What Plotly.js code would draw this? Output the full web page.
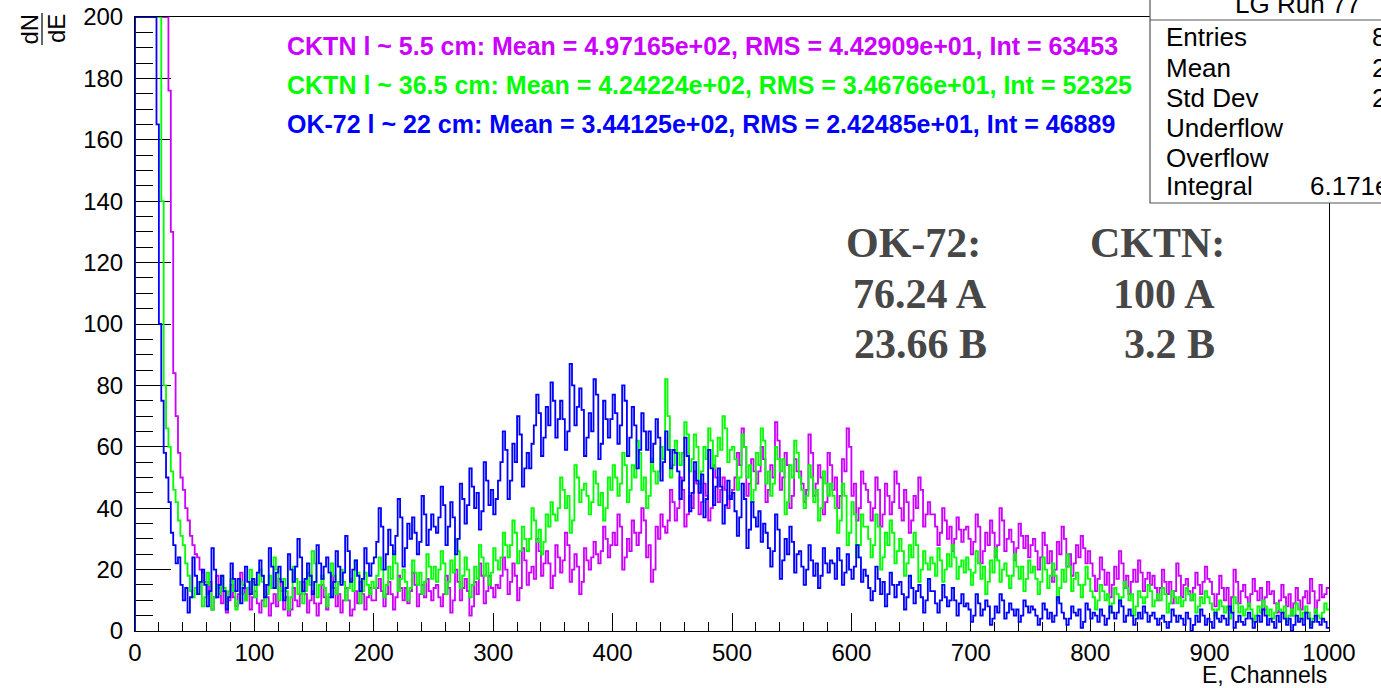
<!DOCTYPE html>
<html>
<head>
<meta charset="utf-8">
<script src="https://cdn.plot.ly/plotly-3.0.1.min.js"></script>
<style>
  html, body { margin: 0; padding: 0; background: #ffffff; }
  #chart { width: 1381px; height: 688px; }
</style>
</head>
<body>
<div id="chart"></div>
<script>
// ---------------- data ----------------
// Histograms over 0..1000 channels, re-binned to 2 channels per bin (500 bins).
// Bins that run off the top of the frame are recorded at the frame maximum (200).
const channelMax = 1000;

// CKTN l ~ 5.5 cm (violet)
const cktn55 = [
  200,200,200,200,200,200,200,200,200,200,200,200,200,200,
  176,130,84,70,58,50,46,40,36,31,28,25,24,20,19,16,
  12,16,7,11,18,14,9,13,6,10,15,11,8,12,19,15,10,14,7,11,
  13,9,6,10,15,11,5,9,12,8,17,13,7,11,5,7,14,10,8,12,16,12,6,10,13,9,5,9,15,11,7,11,18,14,8,12,6,10,14,10,5,7,13,9,16,12,7,11,14,10,
  10,14,17,13,8,12,16,12,7,11,18,14,10,14,9,13,19,15,8,12,15,11,17,13,10,14,
  15,11,8,12,18,14,6,10,20,16,10,14,17,13,5,8,16,12,22,18,9,13,18,14,11,15,
  14,18,24,20,12,16,22,18,10,14,27,23,15,19,21,17,30,26,
  18,22,26,22,14,18,28,24,19,23,32,28,16,20,25,21,12,16,27,23,20,24,29,25,
  22,26,34,30,24,28,32,28,38,34,20,24,30,26,36,32,
  28,32,40,36,24,28,16,20,34,30,38,34,
  32,36,46,42,36,40,50,46,34,38,44,40,52,48,38,42,48,44,36,40,54,50,42,46,50,46,40,44,
  46,50,58,54,66,60,44,48,56,52,48,52,60,56,42,46,54,50,68,62,46,50,58,54,40,44,56,52,
  52,48,42,46,64,58,44,48,54,50,38,42,58,54,46,50,40,44,56,52,66,60,44,48,36,40,52,48,
  46,42,36,40,50,46,34,38,48,44,38,42,52,48,
  40,36,46,42,32,36,44,40,50,46,34,38,42,38,
  38,34,28,32,40,36,30,34,26,30,37,33,29,33,
  34,30,25,29,38,34,22,26,32,28,36,32,24,28,40,36,26,30,33,29,23,27,35,31,27,31,24,28,
  30,26,20,24,32,28,22,26,16,20,29,25,34,30,21,25,18,22,28,24,31,27,22,26,
  22,18,13,17,24,20,15,19,11,15,21,17,26,22,14,18,12,16,20,16,23,19,13,17,19,15,
  18,14,10,14,20,16,12,16,9,13,22,18,11,15,17,13,10,14,19,15,12,16,21,17,
  16,12,8,12,18,14,10,14,7,11,20,16,9,13,15,11,8,12,17,13,10,14,7,11,16,12,
  13,9,6,10,15,11,8,12,5,9,14,10,7,11,13,9,17,13,6,10,15,11,12,14
];

// CKTN l ~ 36.5 cm (green)
const cktn365 = [
  200,200,200,200,200,200,200,200,200,200,
  200,140,80,66,60,52,46,42,36,31,28,22,18,13,11,14,
  12,16,8,11,19,15,7,11,15,12,18,14,9,13,17,13,7,10,16,12,10,14,20,16,
  11,15,20,16,8,12,18,14,24,20,10,14,17,13,7,11,21,17,12,16,9,13,19,15,26,22,11,15,18,14,8,12,22,18,12,16,20,16,10,14,17,13,23,19,9,13,19,15,12,16,
  14,18,24,20,11,15,21,17,26,22,13,17,20,16,10,14,23,19,15,19,12,16,25,21,17,21,
  16,20,26,22,12,16,23,19,30,26,14,18,24,20,11,15,21,17,28,24,18,22,15,19,27,23,
  20,24,32,28,24,28,36,32,22,26,34,30,26,30,40,36,29,33,25,29,38,34,42,38,
  36,40,50,46,40,44,32,36,54,50,42,46,
  48,44,38,42,52,48,41,45,36,40,50,46,54,50,
  44,48,58,54,42,46,54,50,62,58,46,50,40,44,56,52,48,52,60,56,
  82,70,
  50,54,62,58,54,58,68,64,52,56,64,60,48,52,60,56,66,62,53,57,63,59,70,66,55,59,
  60,56,46,50,64,60,50,54,42,46,58,54,66,62,48,52,44,48,60,56,52,56,38,42,54,50,62,58,
  50,46,40,44,54,50,42,46,36,40,52,48,44,48,
  44,40,32,36,48,44,28,32,42,38,24,28,38,34,
  34,30,24,28,38,34,20,24,32,28,36,32,22,26,
  30,26,18,22,28,24,32,28,16,20,26,22,20,24,
  22,18,27,23,16,20,25,21,28,24,17,21,23,19,
  24,20,15,19,26,22,17,21,12,16,23,19,27,23,16,20,22,18,14,18,25,21,17,21,13,17,23,19,
  21,17,12,16,24,20,14,18,22,18,10,14,20,16,25,21,13,17,19,15,11,15,21,17,
  13,11,7,10,15,13,10,12,6,9,14,12,9,11,16,14,10,12,5,8,13,11,9,11,15,13,8,10,12,10,14,12,6,9,13,11,9,11,8,10,14,12,10,12,6,8,11,9,13,11,
  9,7,5,7,10,8,6,8,4,6,11,9,6,8,5,7,9,7,3,5,8,6,10,8,5,7,4,6,9,7,6,8,3,5,7,5,9,7,4,6,8,6,2,4,7,5,4,6,9,7
];

// OK-72 l ~ 22 cm (blue)
const ok72 = [
  200,200,200,200,200,200,200,200,
  200,165,100,75,
  58,50,42,32,28,22,24,15,
  10,14,6,11,24,18,12,16,20,15,8,13,27,20,11,15,18,13,7,11,
  22,17,13,17,9,14,21,16,12,17,
  15,19,23,18,11,15,27,21,14,19,21,16,10,14,25,20,16,21,30,24,13,17,22,18,12,16,28,22,17,21,24,19,11,16,26,21,15,19,31,26,16,20,23,18,13,17,27,22,18,22,
  24,29,40,34,20,25,33,28,25,31,43,37,21,27,35,30,37,32,25,29,44,38,28,33,38,34,
  32,37,47,41,28,34,42,37,25,30,48,43,35,41,53,47,40,45,33,39,55,49,41,46,38,43,
  49,55,65,59,43,49,61,55,70,64,47,53,58,53,
  61,67,77,71,57,63,73,67,81,75,63,69,75,69,59,65,87,80,
  67,73,79,72,57,63,71,65,82,77,56,61,75,69,63,69,77,71,
  61,67,80,75,57,63,73,67,53,59,71,65,59,65,
  55,61,69,63,49,55,65,59,53,59,
  58,52,43,49,63,57,39,45,55,49,45,51,37,43,59,53,41,47,53,47,35,41,49,43,
  45,39,31,37,48,43,27,33,42,37,34,39,29,35,
  32,27,21,26,38,33,17,23,30,25,34,29,19,25,
  26,21,15,20,28,23,18,22,14,18,27,22,19,23,
  22,17,27,23,15,19,25,20,17,21,28,24,16,20,
  18,14,10,13,21,17,12,16,8,12,19,15,11,15,
  16,12,7,11,18,14,9,13,15,11,6,10,17,13,
  13,9,6,10,15,11,8,10,14,10,5,9,12,8,
  9,7,3,5,12,9,5,7,10,8,2,4,8,6,12,10,4,6,9,7,5,7,3,5,10,8,6,8,
  7,5,2,4,9,7,4,6,3,5,11,9,6,4,2,4,8,6,5,7,1,3,9,7,4,6,5,3,7,5,2,4,8,6,4,6,10,8,3,5,7,5,2,4,6,4,8,6,3,5,
  6,4,2,4,5,3,1,3,7,5,3,5,4,2,6,4,0,2,5,3,7,5,2,4,3,1,6,4,3,5,4,2,8,6,1,3,5,3,2,4,6,4,1,3,5,3,7,5,2,4,3,1,5,3,6,4,2,4,0,2,5,3,4,2,6,4,1,3,5,3,2,4,3,1
];

const seriesNames = ["CKTN l ~ 5.5 cm", "CKTN l ~ 36.5 cm", "OK-72 l ~ 22 cm"];
const legendLines = [
  "CKTN l ~ 5.5 cm: Mean = 4.97165e+02, RMS = 4.42909e+01, Int = 63453",
  "CKTN l ~ 36.5 cm: Mean = 4.24224e+02, RMS = 3.46766e+01, Int = 52325",
  "OK-72 l ~ 22 cm: Mean = 3.44125e+02, RMS = 2.42485e+01, Int = 46889"
];
const statsTitle = "LG Run 77";
const statNames  = ["Entries", "Mean", "Std Dev", "Underflow", "Overflow", "Integral"];
const statValues = ["8", "2", "2", "", "", "6.171e"];
const ratioLeft  = ["OK-72:", "76.24 A", "23.66 B"];
const ratioRight = ["CKTN:", "100 A", "3.2 B"];

// ---------------- geometry helpers (pixel -> paper) ----------------
const W = 1381, H = 688;
const M = { l: 135, r: 52, t: 17, b: 57 };
const PW = W - M.l - M.r, PH = H - M.t - M.b;
const px = x => (x - M.l) / PW;
const py = y => (H - M.b - y) / PH;

// histogram outline: starts on the baseline at the left edge, then one step per bin
function steps(vals) {
  const w = channelMax / vals.length;
  const x = [0], y = [0];
  vals.forEach((v, i) => { x.push(i * w); y.push(v); });
  x.push(channelMax); y.push(vals[vals.length - 1]);
  return { x, y };
}

const colors = ["#CC00FF", "#00FF00", "#0000FF"];
const allSeries = [cktn55, cktn365, ok72];

const traces = allSeries.map((vals, k) => {
  const s = steps(vals);
  return {
    type: "scatter", mode: "lines", name: seriesNames[k],
    x: s.x, y: s.y,
    line: { shape: "hv", color: colors[k], width: 1.8 },
    hoverinfo: "skip"
  };
});

const SANS = "Liberation Sans, Arial, Helvetica, sans-serif";
const SERIF = "Liberation Serif, Times New Roman, serif";

const annotations = [];
// coloured summary lines
const legendY = [46, 85, 124];
legendLines.forEach((t, k) => annotations.push({
  xref: "paper", yref: "paper", x: px(285), y: py(legendY[k]),
  xanchor: "left", yanchor: "middle", showarrow: false,
  text: "<b>" + t + "</b>",
  font: { family: SANS, size: 25, color: colors[k] }
}));
// stats box
annotations.push({
  xref: "paper", yref: "paper", x: px(1298), y: py(4),
  xanchor: "center", yanchor: "middle", showarrow: false,
  text: statsTitle, font: { family: SANS, size: 26, color: "#000" }
});
const statY = [37, 68, 98, 128, 158, 186];
const statValX = [1370, 1370, 1370, 1370, 1370, 1308];
statNames.forEach((n, k) => {
  annotations.push({
    xref: "paper", yref: "paper", x: px(1164), y: py(statY[k]),
    xanchor: "left", yanchor: "middle", showarrow: false,
    text: n, font: { family: SANS, size: 26, color: "#000" }
  });
  if (statValues[k]) annotations.push({
    xref: "paper", yref: "paper", x: px(statValX[k]), y: py(statY[k]),
    xanchor: "left", yanchor: "middle", showarrow: false,
    text: statValues[k], font: { family: SANS, size: 26, color: "#000" }
  });
});
// OK-72 / CKTN ratios
const ratioY = [243, 294, 344];
const leftX = [913, 920, 920], rightX = [1157, 1164, 1169];
ratioLeft.forEach((t, k) => annotations.push({
  xref: "paper", yref: "paper", x: px(leftX[k]), y: py(ratioY[k]),
  xanchor: "center", yanchor: "middle", showarrow: false,
  text: "<b>" + t + "</b>", font: { family: SERIF, size: 42, color: "#474747" }
}));
ratioRight.forEach((t, k) => annotations.push({
  xref: "paper", yref: "paper", x: px(rightX[k]), y: py(ratioY[k]),
  xanchor: "center", yanchor: "middle", showarrow: false,
  text: "<b>" + t + "</b>", font: { family: SERIF, size: 42, color: "#474747" }
}));
// y title as fraction dN / dE
annotations.push({
  xref: "paper", yref: "paper", x: px(28.5), y: py(29),
  xanchor: "center", yanchor: "middle", showarrow: false, textangle: -90,
  text: "dN", font: { family: SANS, size: 24, color: "#000" }
});
annotations.push({
  xref: "paper", yref: "paper", x: px(56), y: py(29),
  xanchor: "center", yanchor: "middle", showarrow: false, textangle: -90,
  text: "dE", font: { family: SANS, size: 24, color: "#000" }
});
// x title
annotations.push({
  xref: "paper", yref: "paper", x: 1, y: py(675),
  xanchor: "right", yanchor: "middle", showarrow: false,
  text: "E, Channels", font: { family: SANS, size: 23, color: "#000" }
});

const shapes = [
  { type: "line", xref: "paper", yref: "paper", x0: px(42), x1: px(42), y0: py(13), y1: py(45),
    line: { color: "#000", width: 1.2 } },
  { type: "rect", xref: "paper", yref: "paper", x0: px(1150), x1: px(1400), y0: py(203), y1: py(-20),
    fillcolor: "#ffffff", line: { color: "#555", width: 1.2 }, layer: "above" },
  { type: "line", xref: "paper", yref: "paper", x0: px(1150), x1: px(1400), y0: py(20), y1: py(20),
    line: { color: "#555", width: 1.2 }, layer: "above" }
];

const layout = {
  width: W, height: H,
  margin: M,
  paper_bgcolor: "#ffffff", plot_bgcolor: "#ffffff",
  showlegend: false,
  font: { family: SANS, size: 24, color: "#000" },
  xaxis: {
    range: [0, channelMax], dtick: 100, tick0: 0,
    ticks: "inside", ticklen: 18, tickwidth: 1, tickcolor: "#000",
    minor: { dtick: 20, ticks: "inside", ticklen: 9, tickcolor: "#000", tickwidth: 1 },
    showgrid: false, zeroline: false,
    showline: true, mirror: true, linecolor: "#000", linewidth: 1,
    layer: "below traces",
    tickfont: { family: SANS, size: 24, color: "#000" }
  },
  yaxis: {
    range: [0, 200], dtick: 20, tick0: 0,
    ticks: "inside", ticklen: 36, tickwidth: 1, tickcolor: "#000",
    minor: { dtick: 5, ticks: "inside", ticklen: 18, tickcolor: "#000", tickwidth: 1 },
    showgrid: false, zeroline: false,
    showline: true, mirror: true, linecolor: "#000", linewidth: 1,
    layer: "below traces",
    ticklabelstandoff: 6,
    tickfont: { family: SANS, size: 24, color: "#000" }
  },
  annotations, shapes
};

Plotly.newPlot("chart", traces, layout, { staticPlot: true, displayModeBar: false });
</script>
</body>
</html>
